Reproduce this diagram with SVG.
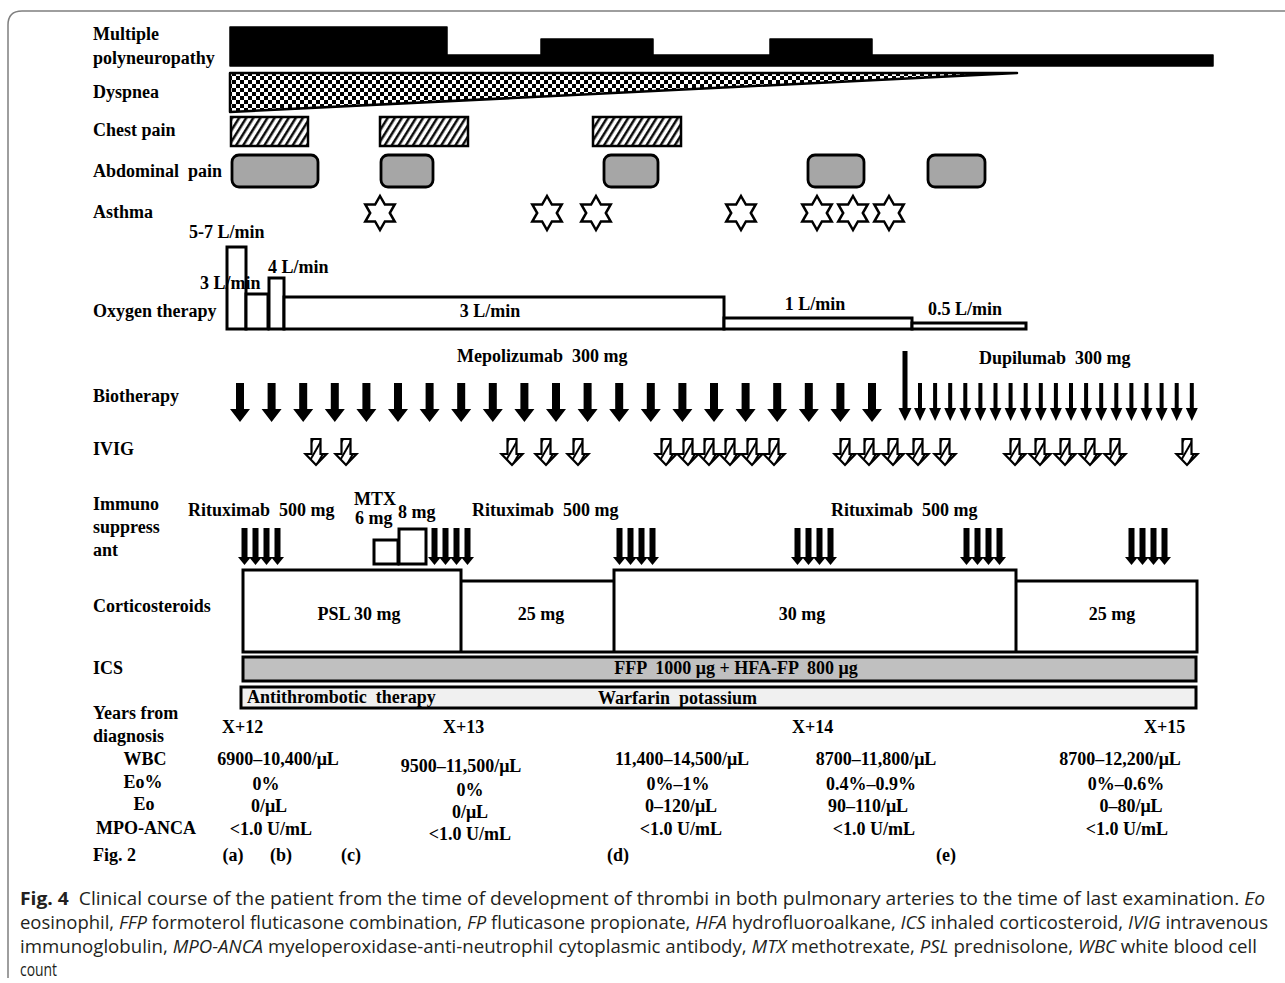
<svg xmlns="http://www.w3.org/2000/svg" width="1285" height="983" viewBox="0 0 1285 983">
<style>
.lb{font-family:"Liberation Serif","Times New Roman",serif;font-weight:bold;font-size:18px;fill:#000;white-space:pre}
.mid{text-anchor:middle}
.cap{font-family:"Liberation Sans Narrow","Open Sans","Liberation Sans",sans-serif;font-size:18.5px;fill:#231f20;white-space:pre}
.ol{fill:none;stroke:#000;stroke-width:3;stroke-linejoin:miter}
.wb{fill:#fff;stroke:#000;stroke-width:3}
.blk{fill:#000}
.ivig{fill:url(#hatch2);stroke:#000;stroke-width:2.2;stroke-linejoin:miter}
</style>
<defs>
<pattern id="chk" width="8" height="8" patternUnits="userSpaceOnUse"><rect width="8" height="8" fill="#fff"/><rect width="4" height="4" fill="#000"/><rect x="4" y="4" width="4" height="4" fill="#000"/></pattern>
<pattern id="hatch" width="6" height="10" patternUnits="userSpaceOnUse" patternTransform="rotate(32)"><rect width="6" height="10" fill="#fff"/><line x1="1.3" y1="0" x2="1.3" y2="10" stroke="#000" stroke-width="2.4"/></pattern>
<pattern id="hatch2" width="8" height="10" patternUnits="userSpaceOnUse" patternTransform="rotate(30)"><rect width="8" height="10" fill="#fff"/><line x1="1" y1="0" x2="1" y2="10" stroke="#000" stroke-width="2"/></pattern>
<path id="star" d="M0,-17 L4.9,-8.49 L14.72,-8.5 L9.8,0 L14.72,8.5 L4.9,8.49 L0,17 L-4.9,8.49 L-14.72,8.5 L-9.8,0 L-14.72,-8.5 L-4.9,-8.49 Z" fill="#fff" stroke="#000" stroke-width="2.5" stroke-linejoin="miter"/>
<path id="bigArrow" d="M-4,383 H4 V409 H10 L0,422 L-10,409 H-4 Z" fill="#000"/>
<path id="narrowArrow" d="M-2,383 H2 V408 H6 L0,421 L-6,408 H-2 Z" fill="#000"/>
<path id="longArrow" d="M-2.5,351 H2.5 V408 H6.5 L0,421 L-6.5,408 H-2.5 Z" fill="#000"/>
<path id="ivigArrow" d="M-4.5,439 H4.5 V454 H10.5 L0,465 L-10.5,454 H-4.5 Z" class="ivig"/>
<path id="rxArrow" d="M-3,528 H3 V557 H6.5 L0,565 L-6.5,557 H-3 Z" fill="#000"/>
</defs>
<rect width="1285" height="983" fill="#fff"/>
<path d="M1290,11 H22 Q8,11 8,25 V978" fill="none" stroke="#7f7f7f" stroke-width="1.5"/>

<g id="labels">
<text class="lb" x="93" y="40">Multiple</text>
<text class="lb" x="93" y="64">polyneuropathy</text>
<text class="lb" x="93" y="98">Dyspnea</text>
<text class="lb" x="93" y="136">Chest pain</text>
<text class="lb" x="93" y="177">Abdominal  pain</text>
<text class="lb" x="93" y="218">Asthma</text>
<text class="lb" x="93" y="317">Oxygen therapy</text>
<text class="lb" x="93" y="402">Biotherapy</text>
<text class="lb" x="93" y="455">IVIG</text>
<text class="lb" x="93" y="510">Immuno</text>
<text class="lb" x="93" y="533">suppress</text>
<text class="lb" x="93" y="556">ant</text>
<text class="lb" x="93" y="612">Corticosteroids</text>
<text class="lb" x="93" y="674">ICS</text>
<text class="lb" x="93" y="719">Years from</text>
<text class="lb" x="93" y="742">diagnosis</text>
</g>

<g id="polyneuropathy">
<path d="M230,27 H447 V55 H541 V39 H653 V55 H770 V39 H872 V55 H1213 V66 H230 Z" fill="#000" stroke="#000" stroke-width="1.5" stroke-linejoin="round"/>
</g>

<g id="dyspnea">
<polygon points="230,73 1017,73 230,112" fill="url(#chk)" stroke="#000" stroke-width="2.5" stroke-linejoin="round"/>
</g>

<g id="chest-pain">
<rect x="231" y="117" width="77" height="29" fill="url(#hatch)" stroke="#000" stroke-width="2.5"/>
<rect x="380" y="117" width="88" height="29" fill="url(#hatch)" stroke="#000" stroke-width="2.5"/>
<rect x="593" y="117" width="88" height="29" fill="url(#hatch)" stroke="#000" stroke-width="2.5"/>
</g>

<g id="abdominal-pain" fill="#a6a6a6" stroke="#000" stroke-width="2.8">
<rect x="232" y="155" width="86" height="32" rx="7"/>
<rect x="381" y="155" width="52" height="32" rx="7"/>
<rect x="604" y="155" width="54" height="32" rx="7"/>
<rect x="808" y="155" width="56" height="32" rx="7"/>
<rect x="928" y="155" width="57" height="32" rx="7"/>
</g>

<g id="asthma">
<use href="#star" x="380" y="213"/>
<use href="#star" x="547" y="213"/>
<use href="#star" x="596" y="213"/>
<use href="#star" x="741" y="213"/>
<use href="#star" x="817" y="213"/>
<use href="#star" x="853" y="213"/>
<use href="#star" x="889" y="213"/>
</g>

<g id="oxygen-therapy">
<rect class="wb" x="227" y="247" width="19" height="82"/>
<rect class="wb" x="246" y="294" width="22" height="35"/>
<rect class="wb" x="269" y="278" width="15" height="51"/>
<rect class="wb" x="284" y="297" width="440" height="32"/>
<rect class="wb" x="724" y="318" width="188" height="11"/>
<rect class="wb" x="912" y="323" width="114" height="6"/>
<text class="lb" x="189" y="238">5-7 L/min</text>
<text class="lb" x="200" y="289">3 L/min</text>
<text class="lb" x="268" y="273">4 L/min</text>
<text class="lb mid" x="490" y="317">3 L/min</text>
<text class="lb mid" x="815" y="310">1 L/min</text>
<text class="lb mid" x="965" y="315">0.5 L/min</text>
</g>

<g id="biotherapy">
<text class="lb" x="457" y="362">Mepolizumab  300 mg</text>
<text class="lb" x="979" y="364">Dupilumab  300 mg</text>
<use href="#bigArrow" x="240"/><use href="#bigArrow" x="271.6"/><use href="#bigArrow" x="303.2"/><use href="#bigArrow" x="334.8"/>
<use href="#bigArrow" x="366.4"/><use href="#bigArrow" x="398"/><use href="#bigArrow" x="429.6"/><use href="#bigArrow" x="461.2"/>
<use href="#bigArrow" x="492.8"/><use href="#bigArrow" x="524.4"/><use href="#bigArrow" x="556"/><use href="#bigArrow" x="587.6"/>
<use href="#bigArrow" x="619.2"/><use href="#bigArrow" x="650.8"/><use href="#bigArrow" x="682.4"/><use href="#bigArrow" x="714"/>
<use href="#bigArrow" x="745.6"/><use href="#bigArrow" x="777.2"/><use href="#bigArrow" x="808.8"/><use href="#bigArrow" x="840.4"/>
<use href="#bigArrow" x="872"/>
<use href="#longArrow" x="905"/>
<use href="#narrowArrow" x="920"/><use href="#narrowArrow" x="935.1"/><use href="#narrowArrow" x="950.2"/><use href="#narrowArrow" x="965.3"/>
<use href="#narrowArrow" x="980.4"/><use href="#narrowArrow" x="995.5"/><use href="#narrowArrow" x="1010.6"/><use href="#narrowArrow" x="1025.7"/>
<use href="#narrowArrow" x="1040.8"/><use href="#narrowArrow" x="1055.9"/><use href="#narrowArrow" x="1071"/><use href="#narrowArrow" x="1086.1"/>
<use href="#narrowArrow" x="1101.2"/><use href="#narrowArrow" x="1116.3"/><use href="#narrowArrow" x="1131.4"/><use href="#narrowArrow" x="1146.5"/>
<use href="#narrowArrow" x="1161.6"/><use href="#narrowArrow" x="1176.7"/><use href="#narrowArrow" x="1191.8"/>
</g>

<g id="ivig">
<use href="#ivigArrow" x="316"/><use href="#ivigArrow" x="346"/>
<use href="#ivigArrow" x="512"/><use href="#ivigArrow" x="546"/><use href="#ivigArrow" x="578"/>
<use href="#ivigArrow" x="666"/><use href="#ivigArrow" x="688"/><use href="#ivigArrow" x="709"/><use href="#ivigArrow" x="730"/><use href="#ivigArrow" x="752"/><use href="#ivigArrow" x="774"/>
<use href="#ivigArrow" x="845"/><use href="#ivigArrow" x="869"/><use href="#ivigArrow" x="893"/><use href="#ivigArrow" x="918"/><use href="#ivigArrow" x="945"/>
<use href="#ivigArrow" x="1015"/><use href="#ivigArrow" x="1040"/><use href="#ivigArrow" x="1065"/><use href="#ivigArrow" x="1090"/><use href="#ivigArrow" x="1115"/>
<use href="#ivigArrow" x="1187"/>
</g>

<g id="immunosuppressant">
<text class="lb" x="188" y="516">Rituximab  500 mg</text>
<text class="lb" x="472" y="516">Rituximab  500 mg</text>
<text class="lb" x="831" y="516">Rituximab  500 mg</text>
<text class="lb" x="354" y="505">MTX</text>
<text class="lb" x="355" y="524">6 mg</text>
<text class="lb" x="398" y="518">8 mg</text>
<rect class="wb" x="374" y="540" width="24" height="24" stroke-width="2.5"/>
<rect class="wb" x="399" y="529" width="27" height="35" stroke-width="2.5"/>
<use href="#rxArrow" x="244.5"/><use href="#rxArrow" x="255.5"/><use href="#rxArrow" x="266.5"/><use href="#rxArrow" x="277.5"/>
<use href="#rxArrow" x="434.5"/><use href="#rxArrow" x="445.5"/><use href="#rxArrow" x="456.5"/><use href="#rxArrow" x="467.5"/>
<use href="#rxArrow" x="619.5"/><use href="#rxArrow" x="630.5"/><use href="#rxArrow" x="641.5"/><use href="#rxArrow" x="652.5"/>
<use href="#rxArrow" x="797.5"/><use href="#rxArrow" x="808.5"/><use href="#rxArrow" x="819.5"/><use href="#rxArrow" x="830.5"/>
<use href="#rxArrow" x="966.5"/><use href="#rxArrow" x="977.5"/><use href="#rxArrow" x="988.5"/><use href="#rxArrow" x="999.5"/>
<use href="#rxArrow" x="1131.5"/><use href="#rxArrow" x="1142.5"/><use href="#rxArrow" x="1153.5"/><use href="#rxArrow" x="1164.5"/>
</g>

<g id="corticosteroids">
<path class="ol" d="M243,652 V570 H461 V581 H614 V570 H1016 V581 H1197 V652 Z M461,570 V652 M614,570 V652 M1016,570 V652"/>
<text class="lb mid" x="359" y="620">PSL 30 mg</text>
<text class="lb mid" x="541" y="620">25 mg</text>
<text class="lb mid" x="802" y="620">30 mg</text>
<text class="lb mid" x="1112" y="620">25 mg</text>
</g>

<g id="ics">
<rect x="243" y="657" width="953" height="24" fill="#c0c0c0" stroke="#000" stroke-width="3"/>
<text class="lb mid" x="736" y="674">FFP  1000 μg + HFA-FP  800 μg</text>
</g>

<g id="antithrombotic">
<rect x="241" y="687" width="955" height="21" fill="#f0f0f0" stroke="#000" stroke-width="3"/>
<text class="lb" x="247" y="703">Antithrombotic  therapy</text>
<text class="lb" x="598" y="704">Warfarin  potassium</text>
</g>

<g id="years">
<text class="lb" x="222" y="733">X+12</text>
<text class="lb" x="443" y="733">X+13</text>
<text class="lb" x="792" y="733">X+14</text>
<text class="lb" x="1144" y="733">X+15</text>
</g>

<g id="lab-values">
<text class="lb mid" x="145" y="765">WBC</text>
<text class="lb mid" x="143" y="788">Eo%</text>
<text class="lb mid" x="144" y="810">Eo</text>
<text class="lb mid" x="146" y="834">MPO-ANCA</text>

<text class="lb mid" x="278" y="765">6900–10,400/μL</text>
<text class="lb mid" x="266" y="790">0%</text>
<text class="lb mid" x="269" y="812">0/μL</text>
<text class="lb mid" x="271" y="835">&lt;1.0 U/mL</text>

<text class="lb mid" x="461" y="772">9500–11,500/μL</text>
<text class="lb mid" x="470" y="796">0%</text>
<text class="lb mid" x="470" y="818">0/μL</text>
<text class="lb mid" x="470" y="840">&lt;1.0 U/mL</text>

<text class="lb mid" x="682" y="765">11,400–14,500/μL</text>
<text class="lb mid" x="678" y="790">0%–1%</text>
<text class="lb mid" x="681" y="812">0–120/μL</text>
<text class="lb mid" x="681" y="835">&lt;1.0 U/mL</text>

<text class="lb mid" x="876" y="765">8700–11,800/μL</text>
<text class="lb mid" x="871" y="790">0.4%–0.9%</text>
<text class="lb mid" x="868" y="812">90–110/μL</text>
<text class="lb mid" x="874" y="835">&lt;1.0 U/mL</text>

<text class="lb mid" x="1120" y="765">8700–12,200/μL</text>
<text class="lb mid" x="1126" y="790">0%–0.6%</text>
<text class="lb mid" x="1131" y="812">0–80/μL</text>
<text class="lb mid" x="1127" y="835">&lt;1.0 U/mL</text>
</g>

<g id="fig2-refs">
<text class="lb" x="93" y="861">Fig. 2</text>
<text class="lb mid" x="233" y="861">(a)</text>
<text class="lb mid" x="281" y="861">(b)</text>
<text class="lb mid" x="351" y="861">(c)</text>
<text class="lb mid" x="618" y="861">(d)</text>
<text class="lb mid" x="946" y="861">(e)</text>
</g>

<g id="caption">
<text class="cap" x="20" y="905" textLength="1245" lengthAdjust="spacingAndGlyphs"><tspan font-weight="bold">Fig. 4</tspan>  Clinical course of the patient from the time of development of thrombi in both pulmonary arteries to the time of last examination. <tspan font-style="italic">Eo</tspan></text>
<text class="cap" x="20" y="929" textLength="1248" lengthAdjust="spacingAndGlyphs">eosinophil, <tspan font-style="italic">FFP</tspan> formoterol fluticasone combination, <tspan font-style="italic">FP</tspan> fluticasone propionate, <tspan font-style="italic">HFA</tspan> hydrofluoroalkane, <tspan font-style="italic">ICS</tspan> inhaled corticosteroid, <tspan font-style="italic">IVIG</tspan> intravenous</text>
<text class="cap" x="20" y="953" textLength="1237" lengthAdjust="spacingAndGlyphs">immunoglobulin, <tspan font-style="italic">MPO-ANCA</tspan> myeloperoxidase-anti-neutrophil cytoplasmic antibody, <tspan font-style="italic">MTX</tspan> methotrexate, <tspan font-style="italic">PSL</tspan> prednisolone, <tspan font-style="italic">WBC</tspan> white blood cell</text>
<text class="cap" x="20" y="976" textLength="37" lengthAdjust="spacingAndGlyphs">count</text>
</g>

<g id="connectors"/>
</svg>
